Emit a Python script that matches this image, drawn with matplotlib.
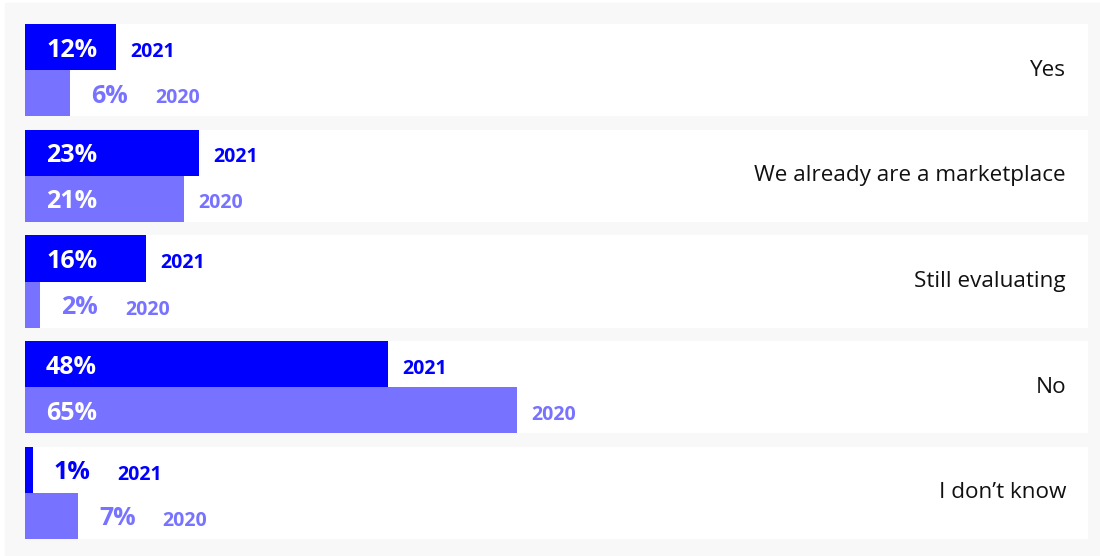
import matplotlib.pyplot as plt
from matplotlib.patches import Rectangle

plt.rcParams['font.family'] = ['Open Sans', 'DejaVu Sans']

# data
categories = ['Yes', 'We already are a marketplace', 'Still evaluating', 'No', 'I don\u2019t know']
vals_2021 = [12, 23, 16, 48, 1]
vals_2020 = [6, 21, 2, 65, 7]
years = ['2021', '2020']

c21 = '#0000ff'
c20 = '#7772ff'
bg = '#f8f8f8'

W, H = 1100, 556
fig = plt.figure(figsize=(W / 100, H / 100), dpi=100, facecolor='white')
fig.patches.append(Rectangle((5 / W, 0), 1 - 5 / W, 1 - 3 / H,
                             transform=fig.transFigure, color=bg, zorder=-5))

# axes spans the white rows: x 25..1088 px, y 24..539 px
ax = fig.add_axes([25 / W, 17 / H, 1063 / W, 515 / H])
ax.set_facecolor('none')
px_per_pct = 7.57
xmax = 1063 / px_per_pct
rh = 0.87
ax.set_xlim(0, xmax)
ax.set_ylim(4 + rh / 2, -rh / 2)
ax.axis('off')

for i, cat in enumerate(categories):
    ax.barh(i, xmax, height=rh, color='white', zorder=1)
    ax.text(xmax - 22 / px_per_pct, i, cat, ha='right', va='center',
            fontsize=16.2, color='#111111', zorder=3)
    for v, yr, col, off in [(vals_2021[i], years[0], c21, -rh / 4),
                            (vals_2020[i], years[1], c20, rh / 4)]:
        y = i + off
        ax.barh(y, v, height=rh / 2, color=col, zorder=2)
        if v >= 10:
            lab = ax.text(21 / px_per_pct, y, f'{v}%', ha='left', va='center_baseline',
                          fontsize=18, fontweight='bold', color='white', zorder=3)
            ax.annotate(yr, xy=(v, y), xytext=(14, -2), textcoords='offset pixels',
                        ha='left', va='center_baseline', fontsize=14, fontweight='bold',
                        color=col, zorder=3)
        else:
            lab = ax.annotate(f'{v}%', xy=(v, y), xytext=(21, 0),
                              textcoords='offset pixels', ha='left', va='center_baseline',
                              fontsize=18, fontweight='bold', color=col, zorder=3)
            ax.annotate(yr, xy=(1, 0.5), xycoords=lab, xytext=(27, -2),
                        textcoords='offset pixels', ha='left', va='center',
                        fontsize=14, fontweight='bold', color=col, zorder=3)

fig.savefig('out.png', dpi=100, facecolor='white')
